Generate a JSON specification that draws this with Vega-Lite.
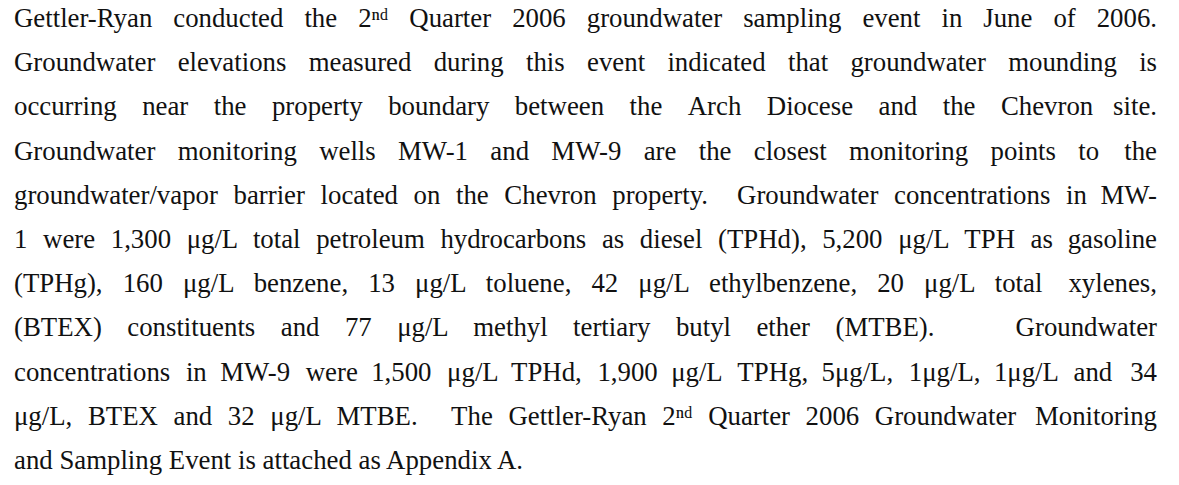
{
  "$schema": "https://vega.github.io/schema/vega-lite/v6.json",
  "width": 1179,
  "height": 485,
  "padding": 0,
  "autosize": "none",
  "background": "white",
  "config": {"view": {"stroke": null}},
  "data": {
    "values": [
      {"line": 1, "part": "L", "text": "Gettler-Ryan \u2004\u2009conducted \u2004\u2009the \u2004\u20092ⁿᵈ \u2004\u2009Quarter \u2004\u20092006 \u2004\u2009groundwater \u2004\u2009sampling \u2004\u2009event \u2004\u2009in \u2004\u2009June \u2004\u2009of"},
      {"line": 1, "part": "R", "text": "2006."},
      {"line": 2, "part": "L", "text": "Groundwater \u2005\u2004elevations \u2005\u2004measured \u2005\u2004during \u2005\u2004this \u2005\u2004event \u2005\u2004indicated \u2005\u2004that \u2005\u2004groundwater \u2005\u2004mounding"},
      {"line": 2, "part": "R", "text": "is"},
      {"line": 3, "part": "L", "text": "occurring \u2002\u2009near \u2002\u2009the \u2002\u2009property \u2002\u2009boundary \u2002\u2009between \u2002\u2009the \u2002\u2009Arch \u2002\u2009Diocese \u2002\u2009and \u2002\u2009the \u2002\u2009Chevron"},
      {"line": 3, "part": "R", "text": "site."},
      {"line": 4, "part": "L", "text": "Groundwater \u2005\u2004monitoring \u2005\u2004wells \u2005\u2004MW-1 \u2005\u2004and \u2005\u2004MW-9 \u2005\u2004are \u2005\u2004the \u2005\u2004closest \u2005\u2004monitoring \u2005\u2004points \u2005\u2004to"},
      {"line": 4, "part": "R", "text": "the"},
      {"line": 5, "part": "L", "text": "groundwater/vapor \u2004barrier \u2004located \u2004on \u2004the \u2004Chevron \u2004property. \u2002\u2004Groundwater \u2004concentrations \u2004in"},
      {"line": 5, "part": "R", "text": "MW-"},
      {"line": 6, "part": "L", "text": "1 \u2004were \u20041,300 \u2004μg/L \u2004total \u2004petroleum \u2004hydrocarbons \u2004as \u2004diesel \u2004(TPHd), \u20045,200 \u2004μg/L \u2004TPH \u2004as"},
      {"line": 6, "part": "R", "text": "gasoline"},
      {"line": 7, "part": "L", "text": "(TPHg), \u2002160 \u2002μg/L \u2002benzene, \u200213 \u2002μg/L \u2002toluene, \u200242 \u2002μg/L \u2002ethylbenzene, \u200220 \u2002μg/L \u2002total"},
      {"line": 7, "part": "R", "text": "xylenes,"},
      {"line": 8, "part": "L", "text": "(BTEX) \u2002\u2009constituents \u2002\u2009and \u2002\u200977 \u2002\u2009μg/L \u2002\u2009methyl \u2002\u2009tertiary \u2002\u2009butyl \u2002\u2009ether \u2002\u2009(MTBE)."},
      {"line": 8, "part": "R", "text": "Groundwater"},
      {"line": 9, "part": "L", "text": "concentrations \u2004in \u2005MW-9 \u2004were \u20051,500 \u2004μg/L \u2005TPHd, \u20041,900 \u2005μg/L \u2004TPHg, \u20055μg/L, \u20041μg/L, \u20051μg/L \u2004and"},
      {"line": 9, "part": "R", "text": "34"},
      {"line": 10, "part": "L", "text": "μg/L, \u2004BTEX \u2004and \u200432 \u2004μg/L \u2004MTBE. \u2003The \u2004Gettler-Ryan \u20042ⁿᵈ \u2004Quarter \u20042006 \u2004Groundwater"},
      {"line": 10, "part": "R", "text": "Monitoring"},
      {"line": 11, "part": "L", "text": "and Sampling Event is attached as Appendix A."}
    ]
  },
  "encoding": {
    "x": {"field": "part", "type": "nominal", "axis": null,
          "scale": {"type": "point", "domain": ["L", "R"], "range": [14, 1157], "padding": 0}},
    "y": {"field": "line", "type": "quantitative", "axis": null,
          "scale": {"domain": [1, 11], "range": [27, 469], "zero": false, "nice": false}},
    "text": {"field": "text", "type": "nominal"}
  },
  "layer": [
    {"transform": [{"filter": "datum.part == 'L'"}],
     "mark": {"type": "text", "align": "left", "baseline": "alphabetic", "font": "Liberation Serif", "fontSize": 26.8, "color": "#111111"}},
    {"transform": [{"filter": "datum.part == 'R'"}],
     "mark": {"type": "text", "align": "right", "baseline": "alphabetic", "font": "Liberation Serif", "fontSize": 26.8, "color": "#111111"}}
  ]
}
